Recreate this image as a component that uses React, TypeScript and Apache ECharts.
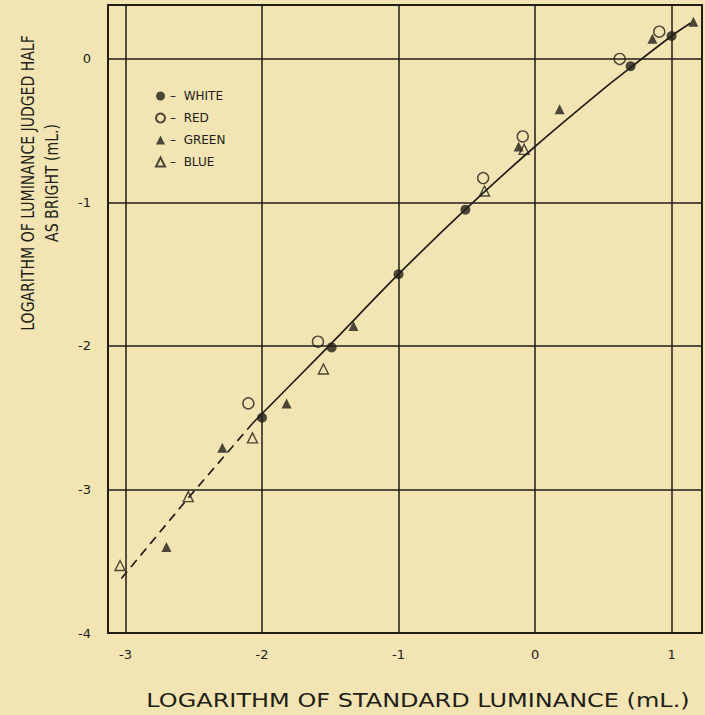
import React, { useEffect, useRef } from "react";
import * as echarts from "echarts";

const xTicks = [-3, -2, -1, 0, 1];
const yTicks = [-4, -3, -2, -1, 0];

const whitePts = [[1.0, 0.16], [0.70, -0.05], [-0.51, -1.05], [-1.0, -1.5], [-1.49, -2.01], [-2.0, -2.5]];
const redPts = [[0.91, 0.19], [0.62, 0.0], [-0.09, -0.54], [-0.38, -0.83], [-1.59, -1.97], [-2.10, -2.40]];
const greenPts = [[1.16, 0.26], [0.86, 0.14], [0.18, -0.35], [-0.12, -0.61], [-1.33, -1.86], [-1.82, -2.40], [-2.29, -2.71], [-2.70, -3.40]];
const bluePts = [[-0.08, -0.63], [-0.37, -0.92], [-1.55, -2.16], [-2.07, -2.64], [-2.54, -3.05], [-3.04, -3.53]];

const solidX = [-2.07, -1.5, -1.0, -0.5, 0.0, 0.5, 0.7, 1.0, 1.14];
const solidY = [-2.54, -1.99, -1.5, -1.04, -0.61, -0.21, -0.06, 0.16, 0.25];
const dashX = [-3.03, -2.55, -2.07];
const dashY = [-3.62, -3.07, -2.54];

const INK = "#221e16";
const BG = "#f3e4b3";

export default function App() {
  const ref = useRef<HTMLDivElement>(null);
  useEffect(() => {
    document.body.style.margin = "0";
    const chart = echarts.init(ref.current!, undefined, { renderer: "svg" });
    const gridLines = [
      ...xTicks.map((v) => ({ xAxis: v })),
      ...yTicks.filter((v) => v > -4).map((v) => ({ yAxis: v })),
    ];
    const markerSeries = (name: string, data: number[][], symbol: string, filled: boolean, size: number) => ({
      name,
      type: "scatter",
      data,
      symbol,
      symbolSize: size,
      itemStyle: {
        color: filled ? INK : "rgba(0,0,0,0)",
        borderColor: INK,
        borderWidth: filled ? 0 : 1.4,
      },
      z: 5,
    });
    chart.setOption({
      animation: false,
      backgroundColor: BG,
      grid: {
        left: 108,
        top: 5,
        width: 594,
        height: 628,
        show: true,
        borderColor: INK,
        borderWidth: 2,
        backgroundColor: "transparent",
      },
      xAxis: {
        type: "value",
        min: -3.128,
        max: 1.223,
        splitLine: { show: false },
        axisTick: { show: false },
        axisLine: { show: false },
        axisLabel: {
          customValues: xTicks,
          color: INK,
          fontSize: 13,
          fontFamily: "DejaVu Sans",
          margin: 15,
          formatter: (v: number) => String(v),
        },
      },
      yAxis: {
        type: "value",
        min: -4,
        max: 0.376,
        splitLine: { show: false },
        axisTick: { show: false },
        axisLine: { show: false },
        axisLabel: {
          customValues: yTicks,
          color: INK,
          fontSize: 13,
          fontFamily: "DejaVu Sans",
          margin: 17,
          formatter: (v: number) => String(v),
        },
      },
      legend: {
        orient: "vertical",
        left: 150,
        top: 85,
        itemWidth: 9,
        itemHeight: 9,
        itemGap: 10,
        data: ["WHITE", "RED", "GREEN", "BLUE"],
        formatter: (n: string) => "–  " + n,
        textStyle: { color: INK, fontSize: 12, fontFamily: "DejaVu Sans" },
      },
      series: [
        {
          name: "grid",
          type: "line",
          data: [],
          markLine: {
            silent: true,
            symbol: "none",
            label: { show: false },
            lineStyle: { color: INK, width: 1.5, type: "solid" },
            data: gridLines,
          },
        },
        {
          name: "curve",
          type: "line",
          data: solidX.map((x, i) => [x, solidY[i]]),
          smooth: 0.3,
          showSymbol: false,
          lineStyle: { color: INK, width: 1.7 },
          z: 3,
        },
        {
          name: "curveDashed",
          type: "line",
          data: dashX.map((x, i) => [x, dashY[i]]),
          showSymbol: false,
          lineStyle: { color: INK, width: 1.7, type: [9, 6] },
          z: 3,
        },
        markerSeries("WHITE", whitePts, "circle", true, 10),
        markerSeries("RED", redPts, "circle", false, 11),
        markerSeries("GREEN", greenPts, "triangle", true, 10),
        markerSeries("BLUE", bluePts, "triangle", false, 10),
      ],
      graphic: [
        {
          type: "text",
          x: 28,
          y: 183,
          rotation: Math.PI / 2,
          scaleX: 0.78,
          style: {
            text: "LOGARITHM OF LUMINANCE JUDGED HALF",
            fill: INK,
            font: "18px 'DejaVu Sans'",
            align: "center",
            verticalAlign: "middle",
          },
        },
        {
          type: "text",
          x: 52,
          y: 183,
          rotation: Math.PI / 2,
          scaleX: 0.78,
          style: {
            text: "AS BRIGHT (mL.)",
            fill: INK,
            font: "18px 'DejaVu Sans'",
            align: "center",
            verticalAlign: "middle",
          },
        },
        {
          type: "text",
          x: 418,
          y: 700,
          scaleX: 1.2,
          style: {
            text: "LOGARITHM OF STANDARD LUMINANCE (mL.)",
            fill: INK,
            font: "20px 'DejaVu Sans'",
            align: "center",
            verticalAlign: "middle",
          },
        },
      ],
    });
    return () => chart.dispose();
  }, []);
  return (
    <div
      ref={ref}
      style={{ position: "absolute", left: 0, top: 0, width: 705, height: 715, background: BG }}
    />
  );
}
